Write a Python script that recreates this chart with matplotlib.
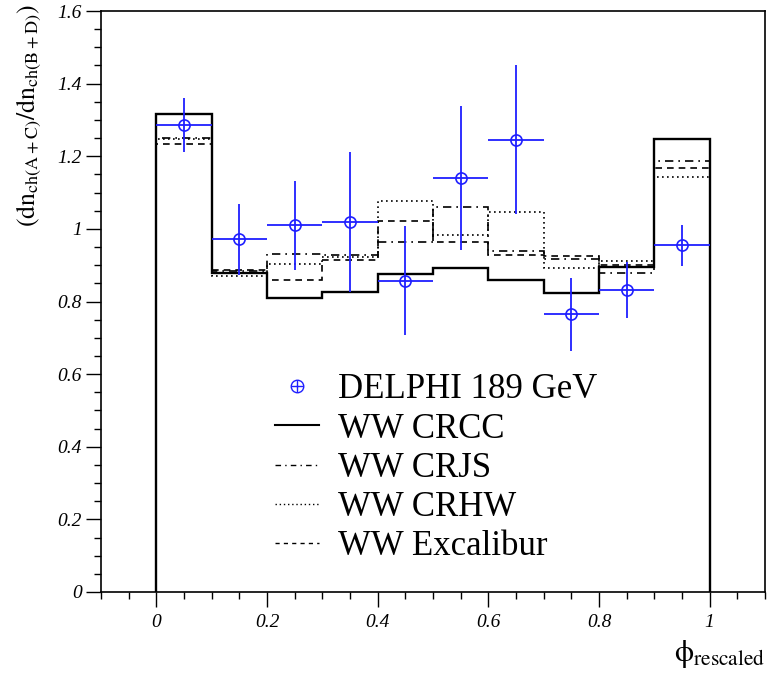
import matplotlib
matplotlib.use("Agg")
import matplotlib.pyplot as plt
from matplotlib.lines import Line2D
from matplotlib.ticker import MultipleLocator, FormatStrFormatter

plt.rcParams["font.family"] = "Liberation Serif"
plt.rcParams["mathtext.fontset"] = "stix"

# --- data ---
bin_edges = [0.0, 0.1, 0.2, 0.3, 0.4, 0.5, 0.6, 0.7, 0.8, 0.9, 1.0]

crcc      = [1.316, 0.878, 0.809, 0.825, 0.876, 0.892, 0.860, 0.823, 0.895, 1.247]
crjs      = [1.250, 0.885, 0.930, 0.928, 0.964, 1.061, 0.939, 0.918, 0.878, 1.186]
crhw      = [1.247, 0.869, 0.902, 0.922, 1.077, 0.983, 1.046, 0.893, 0.912, 1.144]
excalibur = [1.233, 0.888, 0.858, 0.913, 1.022, 0.964, 0.927, 0.924, 0.901, 1.169]

data_x    = [0.05, 0.15, 0.25, 0.35, 0.45, 0.55, 0.65, 0.75, 0.85, 0.95]
data_y    = [1.286, 0.971, 1.010, 1.019, 0.857, 1.140, 1.246, 0.765, 0.831, 0.955]
data_err  = [0.075, 0.098, 0.122, 0.192, 0.150, 0.198, 0.204, 0.100, 0.077, 0.057]
data_xerr = [0.05] * 10

W, H = 767, 673
fig = plt.figure(figsize=(W / 100, H / 100), dpi=100)
fig.patch.set_facecolor("white")
ax = fig.add_axes([101 / W, 1 - 592 / H, (765 - 101) / W, (592 - 11) / H])

blue = "#1f1fff"

# histograms
ax.stairs(crhw, bin_edges, baseline=0, color="black", lw=1.2, linestyle=(0, (1, 2)))
ax.stairs(crjs, bin_edges, baseline=0, color="black", lw=1.2, linestyle=(0, (5, 3, 1, 3)))
ax.stairs(excalibur, bin_edges, baseline=0, color="black", lw=1.2, linestyle=(0, (4, 3)))
ax.stairs(crcc, bin_edges, baseline=0, color="black", lw=1.7)

# data
ax.errorbar(data_x, data_y, yerr=data_err, xerr=data_xerr, fmt="o",
            color=blue, mfc="none", mec=blue, ms=8, mew=1.2,
            elinewidth=1.3, capsize=0, zorder=5)

ax.set_xlim(-0.1, 1.1)
ax.set_ylim(0, 1.6)
ax.xaxis.set_major_locator(MultipleLocator(0.2))
ax.xaxis.set_minor_locator(MultipleLocator(0.05))
ax.yaxis.set_major_locator(MultipleLocator(0.2))
ax.yaxis.set_minor_locator(MultipleLocator(0.05))
ax.xaxis.set_major_formatter(FormatStrFormatter("%g"))
ax.yaxis.set_major_formatter(FormatStrFormatter("%g"))
ax.tick_params(which="major", direction="out", length=11, width=1.0, labelsize=14)
ax.tick_params(axis="x", which="major", pad=5)
ax.tick_params(axis="y", which="major", pad=3)
ax.tick_params(which="minor", direction="out", length=5, width=1.0)
for lab in ax.get_xticklabels() + ax.get_yticklabels():
    lab.set_fontstyle("italic")
for sp in ax.spines.values():
    sp.set_linewidth(1.2)

# legend (circle + plus overlaid for the data marker)
data_handle = (
    Line2D([], [], color=blue, marker="o", mfc="none", ls="none", ms=9, mew=1.0),
    Line2D([], [], color=blue, marker="+", ls="none", ms=9, mew=1.0),
)
handles = [
    data_handle,
    Line2D([], [], color="black", lw=1.5),
    Line2D([], [], color="black", lw=1.0, ls=(0, (4, 3, 1, 3))),
    Line2D([], [], color="black", lw=1.0, ls=(0, (1, 2))),
    Line2D([], [], color="black", lw=1.0, ls=(0, (3, 3))),
]
labels = ["DELPHI 189 GeV", "WW CRCC", "WW CRJS", "WW CRHW", "WW Excalibur"]
ax.legend(handles, labels, loc="upper left",
          bbox_to_anchor=(258 / W, 1 - 356 / H), bbox_transform=fig.transFigure,
          frameon=False, fontsize=25, handlelength=1.25, handletextpad=0.55,
          labelspacing=0.18, borderpad=0)

# axis titles
fig.text(15 / W, 1 - 4 / H,
         r"$\mathrm{(dn_{ch(A+C)}/dn_{ch(B+D)})}$",
         rotation=90, ha="left", va="top", fontsize=18.5)
fig.text(765 / W, 3 / H, r"$\mathrm{\phi}_{\mathrm{rescaled}}$",
         ha="right", va="bottom", fontsize=22)

fig.savefig("out.png", dpi=100, facecolor="white")
